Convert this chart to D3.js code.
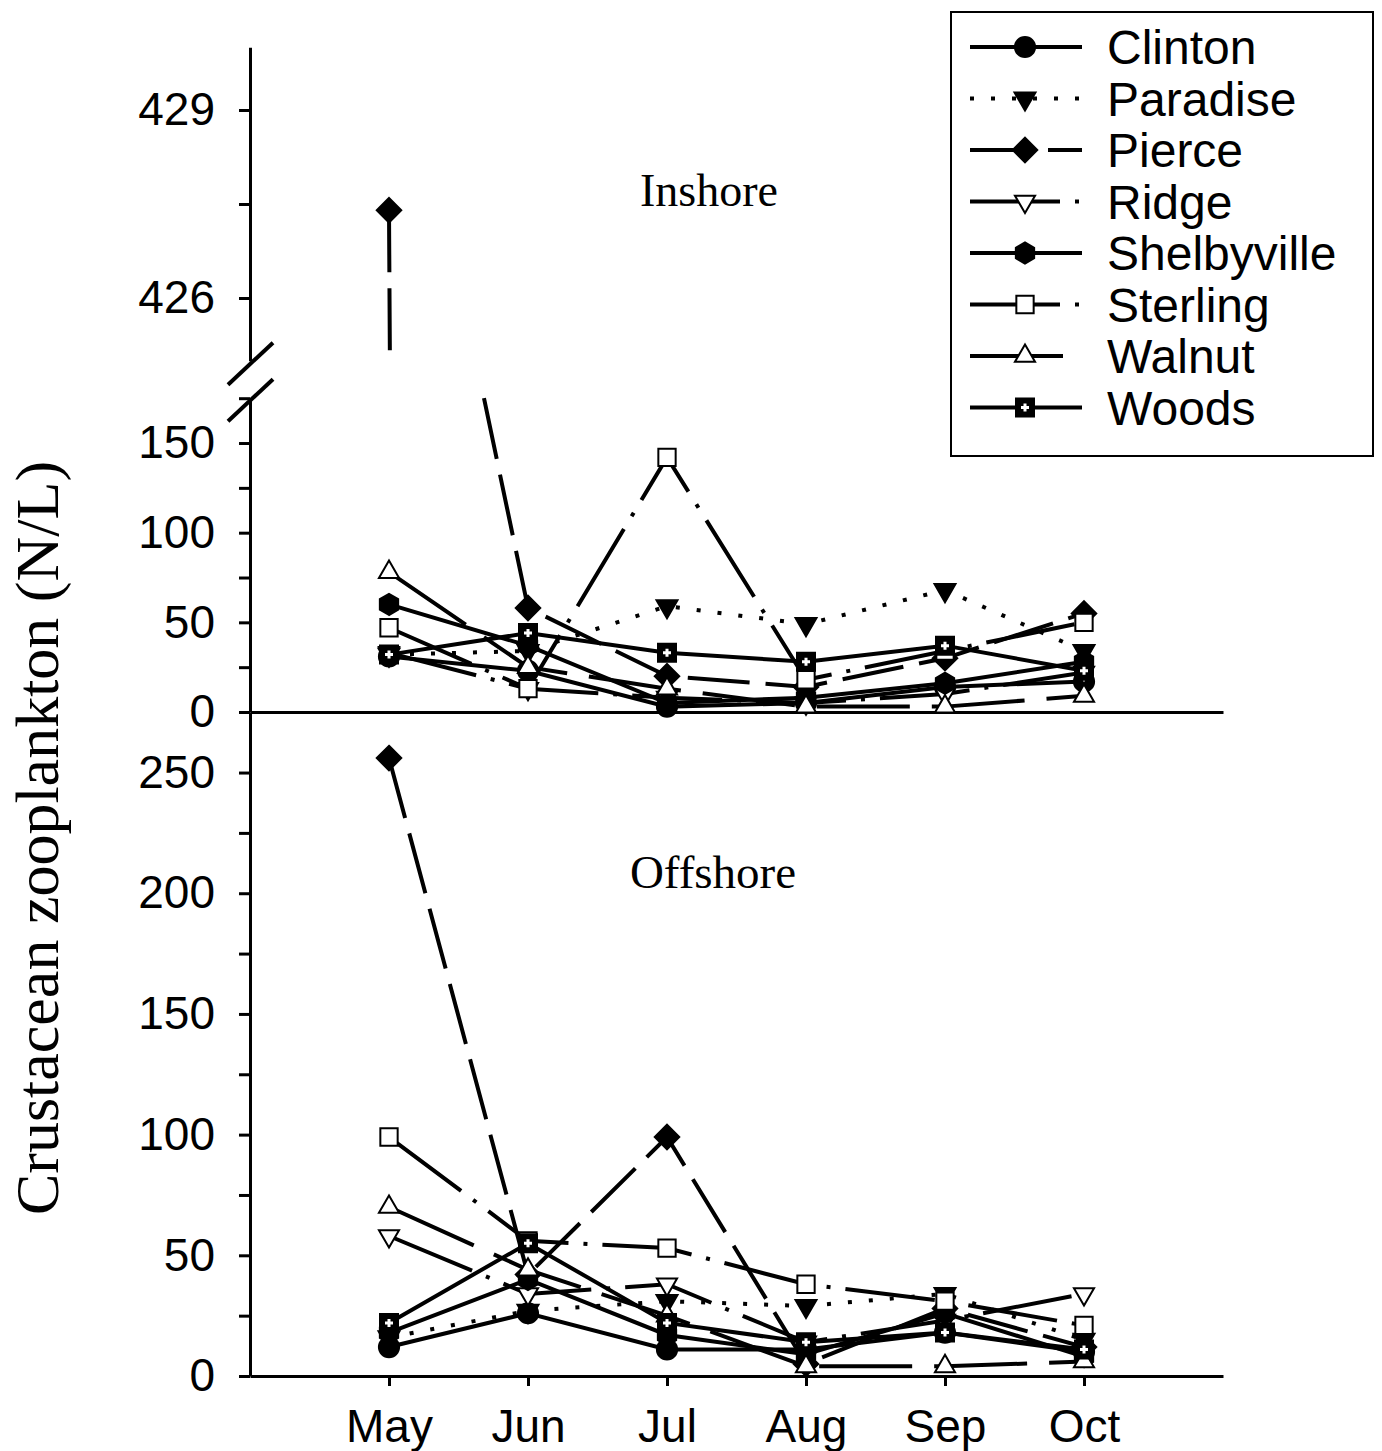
<!DOCTYPE html>
<html><head><meta charset="utf-8">
<script src="https://cdn.jsdelivr.net/npm/d3@7"></script>
<style>body{margin:0;background:#fff} svg{display:block}</style>
</head><body><svg id="c" width="1382" height="1451"></svg>
<script>
// ---------- data ----------
const months = ["May", "Jun", "Jul", "Aug", "Sep", "Oct"];
const sites = ["Clinton", "Paradise", "Pierce", "Ridge", "Shelbyville", "Sterling", "Walnut", "Woods"];

const inshoreClinton     = [31, 23, 3, 5, 14, 17];
const inshoreParadise    = [32, 34, 59, 49, 68, 34];
const inshorePierce      = [427.4, 58, 20, 14, 30, 55];
const inshoreRidge       = [33, 13, 8, 5, 10, 22];
const inshoreShelbyville = [60, 37, 5, 8, 16, 28];
const inshoreSterling    = [47, 13, 142, 18, 34, 50];
const inshoreWalnut      = [78, 25, 13, 3, 3, 9];
const inshoreWoods       = [32, 44, 33, 28, 37, 23];

const offshoreClinton     = [12, 26, 11, 11, 18, 10];
const offshoreParadise    = [16, 27, 31, 29, 34, 15];
const offshorePierce      = [256, 42, 99, 5, 28, 12];
const offshoreRidge       = [58, 34, 38, 14, 23, 34];
const offshoreShelbyville = [18, 40, 17, 9, 26, 8];
const offshoreSterling    = [99, 56, 53, 38, 31, 21];
const offshoreWalnut      = [70, 44, 25, 4, 4, 6];
const offshoreWoods       = [22, 55, 22, 14, 18, 11];

const inshoreTicksUpper = [426, 427.5, 429];
const inshoreLabelsUpper = [426, 429];
const inshoreTicksLower = [0, 25, 50, 75, 100, 125, 150, 175];
const inshoreLabelsLower = [0, 50, 100, 150];
const offshoreTicks = [0, 25, 50, 75, 100, 125, 150, 175, 200, 225, 250];
const offshoreLabels = [0, 50, 100, 150, 200, 250];

const inshoreData = [inshoreClinton, inshoreParadise, inshorePierce, inshoreRidge, inshoreShelbyville, inshoreSterling, inshoreWalnut, inshoreWoods];
const offshoreData = [offshoreClinton, offshoreParadise, offshorePierce, offshoreRidge, offshoreShelbyville, offshoreSterling, offshoreWalnut, offshoreWoods];

// ---------- styles ----------
const dashes = {
  Clinton: null, Paradise: "4,17", Pierce: "62,16", Ridge: "90,15,4,15",
  Shelbyville: null, Sterling: "90,15,4,15", Walnut: "93,22", Woods: null
};
const hexagon = { draw(ctx, size) {
  const r = Math.sqrt(size / (1.5 * Math.sqrt(3)));
  for (let k = 0; k < 6; k++) {
    const a = Math.PI / 2 + k * Math.PI / 3;
    const px = r * Math.cos(a), py = r * Math.sin(a);
    k ? ctx.lineTo(px, py) : ctx.moveTo(px, py);
  }
  ctx.closePath();
}};
const diamond = { draw(ctx, size) {
  const r = Math.sqrt(size / 2);
  ctx.moveTo(0, -r); ctx.lineTo(r, 0); ctx.lineTo(0, r); ctx.lineTo(-r, 0); ctx.closePath();
}};
const markers = {
  Clinton:     { type: d3.symbolCircle,   size: 320, fill: "#000", rot: 0 },
  Paradise:    { type: d3.symbolTriangle, size: 190, fill: "#000", rot: 180 },
  Pierce:      { type: diamond,           size: 300, fill: "#000", rot: 0 },
  Ridge:       { type: d3.symbolTriangle, size: 175, fill: "#fff", rot: 180 },
  Shelbyville: { type: hexagon,           size: 290, fill: "#000", rot: 0 },
  Sterling:    { type: d3.symbolSquare,   size: 300, fill: "#fff", rot: 0 },
  Walnut:      { type: d3.symbolTriangle, size: 175, fill: "#fff", rot: 0 },
  Woods:       { type: d3.symbolSquare,   size: 324, fill: "#000", rot: 0, cross: true }
};

// ---------- scales ----------
const svg = d3.select("#c");
const x = d3.scaleLinear().domain([-1, 6]).range([250, 1223]);
const yUp = d3.scaleLinear().domain([425, 430]).range([360.7, 47.3]);
const yLow = d3.scaleLinear().domain([0, 175]).range([712, 398.2]);
const yOff = d3.scaleLinear().domain([0, 275]).range([1376, 712.2]);
const yIn = v => v >= 425 ? yUp(v) : yLow(v);

const FONT = "'Liberation Sans', Arial, sans-serif";
const SERIF = "'Liberation Serif', 'Times New Roman', serif";

// ---------- axes ----------
function yAxis(scale, ticks, labels) {
  const g = svg.append("g").attr("transform", `translate(${x(-1)},0)`);
  g.call(d3.axisLeft(scale).tickValues(ticks).tickSize(11).tickSizeOuter(0).tickPadding(24)
    .tickFormat(d => labels.includes(d) ? d : ""));
  g.select(".domain").attr("stroke-width", 3);
  g.selectAll(".tick line").attr("stroke-width", 3);
  g.selectAll("text").attr("font-family", FONT).attr("font-size", 46).attr("fill", "#000");
  return g;
}
yAxis(yUp, inshoreTicksUpper, inshoreLabelsUpper);
yAxis(yLow, inshoreTicksLower, inshoreLabelsLower);
yAxis(yOff, offshoreTicks, offshoreLabels);

// inshore x axis (no ticks)
const gxi = svg.append("g").attr("transform", `translate(0,${yLow(0)})`)
  .call(d3.axisBottom(x).tickValues([]).tickSizeOuter(0));
gxi.select(".domain").attr("stroke-width", 3);

// offshore x axis
const gxo = svg.append("g").attr("transform", `translate(0,${yOff(0)})`)
  .call(d3.axisBottom(x).tickValues(d3.range(months.length)).tickSize(10).tickSizeOuter(0).tickPadding(23)
    .tickFormat(i => months[i]));
gxo.select(".domain").attr("stroke-width", 3);
gxo.selectAll(".tick line").attr("stroke-width", 3);
gxo.selectAll("text").attr("font-family", FONT).attr("font-size", 46).attr("fill", "#000");

// axis break marks
[yUp(425) + 3, yLow(175) + 2].forEach(cy => {
  svg.append("line").attr("x1", x(-1) - 22).attr("y1", cy + 21).attr("x2", x(-1) + 23).attr("y2", cy - 21)
    .attr("stroke", "#000").attr("stroke-width", 4);
});

// ---------- series ----------
function renderVerts(vals) {
  const out = [];
  for (let i = 0; i < vals.length; i++) {
    out.push({ t: i, v: vals[i] });
    if (i < vals.length - 1) {
      const a = vals[i], b = vals[i + 1];
      if (a > 175 && b <= 175) {
        out.push({ t: i + (a - 425) / (a - b), v: 425 });
        out.push({ gap: true });
        out.push({ t: i + (a - 175) / (a - b), v: 175 });
      } else if (a <= 175 && b > 175) {
        out.push({ t: i + (175 - a) / (b - a), v: 175 });
        out.push({ gap: true });
        out.push({ t: i + (425 - a) / (b - a), v: 425 });
      }
    }
  }
  return out;
}

function drawPanel(data, yf, broken) {
  data.forEach((vals, k) => {
    const name = sites[k];
    const g = svg.append("g");
    const verts = broken ? renderVerts(vals) : vals.map((v, i) => ({ t: i, v }));
    const line = d3.line().defined(d => !d.gap).x(d => x(d.t)).y(d => yf(d.v));
    g.append("path").attr("d", line(verts)).attr("fill", "none").attr("stroke", "#000")
      .attr("stroke-width", 4).attr("stroke-dasharray", dashes[name]);
    const m = markers[name];
    vals.forEach((v, i) => drawMarker(g, name, x(i), yf(v)));
  });
}

function drawMarker(g, name, cx, cy) {
  const m = markers[name];
  g.append("path").attr("d", d3.symbol().type(m.type).size(m.size)())
    .attr("transform", `translate(${cx},${cy}) rotate(${m.rot})`)
    .attr("fill", m.fill).attr("stroke", "#000").attr("stroke-width", 2);
  if (m.cross) {
    g.append("path").attr("d", "M-4,0H4M0,-4V4").attr("transform", `translate(${cx},${cy})`)
      .attr("stroke", "#fff").attr("stroke-width", 3);
  }
}

drawPanel(inshoreData, yIn, true);
drawPanel(offshoreData, yOff, false);

// ---------- panel labels ----------
svg.append("text").attr("x", 709).attr("y", 206).attr("text-anchor", "middle")
  .attr("font-family", SERIF).attr("font-size", 46).text("Inshore");
svg.append("text").attr("x", 713).attr("y", 888).attr("text-anchor", "middle")
  .attr("font-family", SERIF).attr("font-size", 47).text("Offshore");

// y title
svg.append("text").attr("transform", "translate(58,838) rotate(-90)").attr("text-anchor", "middle")
  .attr("font-family", SERIF).attr("font-size", 62).text("Crustacean zooplankton (N/L)");

// ---------- legend ----------
const lg = svg.append("g");
lg.append("rect").attr("x", 951).attr("y", 12).attr("width", 422).attr("height", 444)
  .attr("fill", "#fff").attr("stroke", "#000").attr("stroke-width", 2);
sites.forEach((name, k) => {
  const cy = 47 + k * 51.5;
  lg.append("line").attr("x1", 970).attr("x2", 1082).attr("y1", cy).attr("y2", cy)
    .attr("stroke", "#000").attr("stroke-width", 4).attr("stroke-dasharray", dashes[name]);
  drawMarker(lg, name, 1025, cy);
  lg.append("text").attr("x", 1107).attr("y", cy + 17).attr("font-family", FONT)
    .attr("font-size", 48).text(name);
});
</script>
</body></html>
